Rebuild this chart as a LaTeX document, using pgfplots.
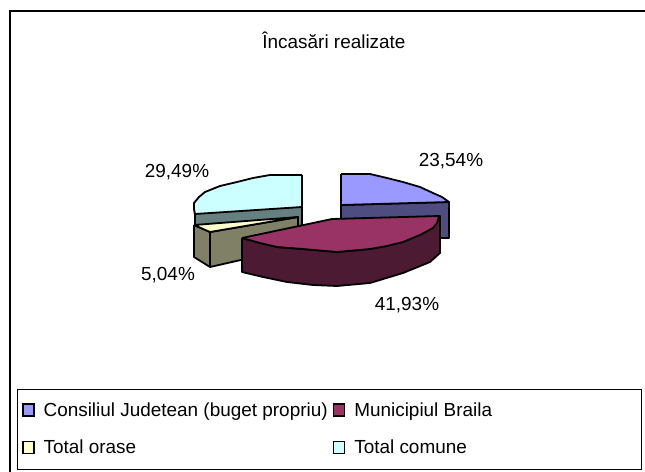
\documentclass[border=0pt]{standalone}
\usepackage{fontspec}
\setmainfont{Liberation Sans}
\usepackage{pgfplots}
\pgfplotsset{compat=1.18}
\definecolor{cBlue}{HTML}{9999FF}
\definecolor{cBlueD}{HTML}{4D4D80}
\definecolor{cMar}{HTML}{993366}
\definecolor{cMarD}{HTML}{4D1A33}
\definecolor{cCream}{HTML}{FFFFCC}
\definecolor{cCreamD}{HTML}{808066}
\definecolor{cCyan}{HTML}{CCFFFF}
\definecolor{cCyanD}{HTML}{668080}
\begin{document}
\begin{tikzpicture}
\begin{axis}[
  width=645bp, height=472bp, scale only axis,
  xmin=0, xmax=645, ymin=0, ymax=472, y dir=reverse,
  hide axis, clip=true,
  legend columns=2,
  legend cell align=left,
  legend style={draw=none, fill=none, at={(axis cs:22,400.5)}, anchor=north west,
    font=\fontsize{19}{22}\selectfont, row sep=18bp,
    inner sep=0bp, outer sep=0pt,
    nodes={inner sep=2bp},
    /tikz/every even column/.append style={column sep=3bp},
    /tikz/every odd column/.append style={column sep=7bp}},
  pie/.style={draw=black, line width=1.8bp, line join=round, forget plot},
  legend image code/.code={\draw[line width=1.6bp,#1] (0bp,-6bp) rectangle (11bp,6bp);},
]
% background and frame
\addplot[fill=white, draw=none, forget plot] coordinates {(0,0)(645,0)(645,472)(0,472)} \closedcycle;
\addplot[draw=black, line width=2.2bp, forget plot] coordinates {(10,472)(10,11)(645,11)};
\addplot[draw=black, line width=0.9bp, forget plot] coordinates {(17,389)(641,389)(641,469)(17,469)(17,389)};
% Total comune (29,49%)
\addplot[pie, fill=cCyanD] coordinates {(194,203)(195,215)(195,226)(302,226)(302,207)};
\addplot[pie, fill=cCyan] coordinates {(302,175)(270,175)(253,178)(237,182)(220,186)(205,192)(199,197)(194,203)(194,209)(195,214)(302,207)(302,175)};
% Total orase (5,04%)
\addplot[pie, fill=cCreamD] coordinates {(194,225)(194,257)(210,267)(298,247)(298,217)(210,232)(194,225)};
\addplot[pie, fill=cCreamD] coordinates {(210,232)(210,267)};
\addplot[pie, fill=cCream] coordinates {(194,225)(298,217)(210,232)(194,225)};
% Consiliul Judetean (23,54%)
\addplot[pie, fill=cBlueD] coordinates {(341,205)(449,202)(449,238)(400,238)(341,238)(341,205)};
\addplot[pie, fill=cBlue] coordinates {(341,174)(370,174)(387,178)(403,182)(420,187)(433,193)(442,197)(449,202)(341,205)(341,174)};
% Municipiul Braila (41,93%)
\addplot[pie, fill=cMarD] coordinates {(242,238)(242,272)(263,277)(287,282)(313,285)(337,286)(370,283)(403,273)(430,262)(440,253)(440,216)(433,228)(403,242)(370,249)(337,252)(303,249)(277,247)(242,238)};
\addplot[pie, fill=cMar] coordinates {(242,238)(332,219)(439,216)(437,223)(433,228)(420,235)(403,242)(387,246)(370,249)(337,252)(303,249)(277,247)(260,243)(242,238)};
% legend
\addlegendimage{draw=black, fill=cBlue}
\addlegendentry{Consiliul Judetean (buget propriu)}
\addlegendimage{draw=black, fill=cMar}
\addlegendentry{Municipiul Braila}
\addlegendimage{draw=black, fill=cCream}
\addlegendentry{Total orase}
\addlegendimage{draw=black, fill=cCyan}
\addlegendentry{Total comune}
% texts
\node[font=\fontsize{19}{22}\selectfont] at (axis cs:334,40) {Încasări realizate};
\node[font=\fontsize{19}{22}\selectfont] at (axis cs:451,161) {23,54\%};
\node[font=\fontsize{19}{22}\selectfont] at (axis cs:407,305) {41,93\%};
\node[font=\fontsize{19}{22}\selectfont] at (axis cs:168,275) {5,04\%};
\node[font=\fontsize{19}{22}\selectfont] at (axis cs:177,172) {29,49\%};
\end{axis}
\end{tikzpicture}
\end{document}
